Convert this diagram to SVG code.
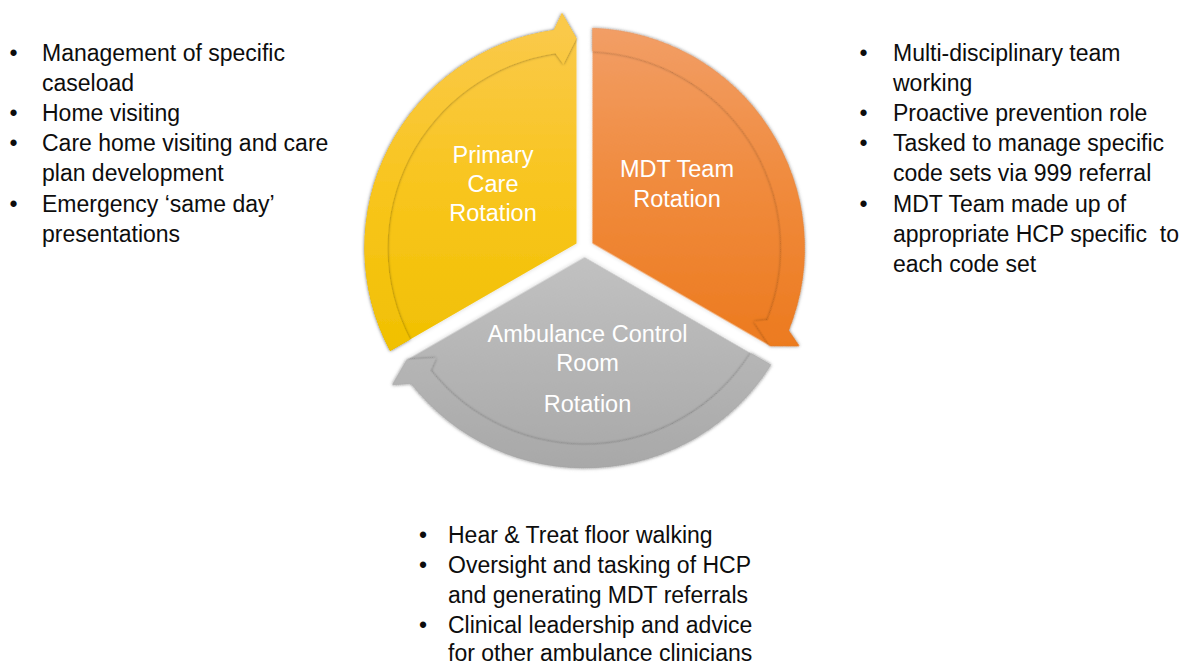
<svg xmlns="http://www.w3.org/2000/svg" xmlns:xlink="http://www.w3.org/1999/xlink" width="1182" height="668" viewBox="0 0 1182 668">
<style>
.list{font-family:"Liberation Sans",Arial,sans-serif;font-size:23px;fill:#0d0d0d}
.lbl{font-family:"Liberation Sans",Arial,sans-serif;font-size:23.5px;fill:#ffffff;text-anchor:middle}
</style>
<defs>
<linearGradient id="gYellow" gradientUnits="userSpaceOnUse" x1="0" y1="28" x2="0" y2="360">
<stop offset="0" stop-color="#FAC94A"/>
<stop offset="0.5" stop-color="#F8C51C"/>
<stop offset="1" stop-color="#F0C000"/>
</linearGradient>
<linearGradient id="gOrange" gradientUnits="userSpaceOnUse" x1="0" y1="28" x2="0" y2="350" gradientTransform="rotate(-120 584.5 248)">
<stop offset="0" stop-color="#F29E66"/>
<stop offset="0.5" stop-color="#F08A3C"/>
<stop offset="1" stop-color="#EC7A1E"/>
</linearGradient>
<linearGradient id="gGray" gradientUnits="userSpaceOnUse" x1="0" y1="250" x2="0" y2="470" gradientTransform="rotate(-240 584.5 248)">
<stop offset="0" stop-color="#C2C2C2"/>
<stop offset="1" stop-color="#A8A8A8"/>
</linearGradient>
<filter id="soft" x="-10%" y="-10%" width="120%" height="120%">
<feDropShadow dx="0" dy="0" stdDeviation="2" flood-color="#000" flood-opacity="0.18"/>
</filter>
<filter id="edge" x="-10%" y="-10%" width="120%" height="120%">
<feDropShadow dx="0" dy="0" stdDeviation="1.5" flood-color="#000" flood-opacity="0.5"/>
</filter>
<path id="segBody" d="M576.5,243.4 L390.1,351.0 A220,220 0 0 1 553.9,30.1 L562.0,13.1 L576.5,38.2 Z"/>
<path id="segBand" d="M390.1,351.0 A220,220 0 0 1 553.9,30.1 L562.0,13.1 L576.5,38.2 L563.4,64.2 L555.4,53.2 A197,197 0 0 0 410.0,339.5 Z"/>
</defs>
<rect width="1182" height="668" fill="#ffffff"/>

<g id="connectors"/>

<g id="node-primary">
<use xlink:href="#segBody" href="#segBody" fill="url(#gYellow)" filter="url(#soft)"/>
<use xlink:href="#segBand" href="#segBand" fill="url(#gYellow)" filter="url(#edge)"/>
<text class="lbl" x="493" y="163">Primary</text>
<text class="lbl" x="493" y="192">Care</text>
<text class="lbl" x="493" y="221">Rotation</text>
</g>

<g id="node-mdt">
<g transform="rotate(120 584.5 248)">
<use xlink:href="#segBody" href="#segBody" fill="url(#gOrange)" filter="url(#soft)"/>
<use xlink:href="#segBand" href="#segBand" fill="url(#gOrange)" filter="url(#edge)"/>
</g>
<text class="lbl" x="677" y="177">MDT Team</text>
<text class="lbl" x="677" y="207">Rotation</text>
</g>

<g id="node-ambulance">
<g transform="rotate(240 584.5 248)">
<use xlink:href="#segBody" href="#segBody" fill="url(#gGray)" filter="url(#soft)"/>
<use xlink:href="#segBand" href="#segBand" fill="url(#gGray)" filter="url(#edge)"/>
</g>
<text class="lbl" x="587.5" y="342">Ambulance Control</text>
<text class="lbl" x="587.5" y="371">Room</text>
<text class="lbl" x="587.5" y="412">Rotation</text>
</g>

<g id="list-primary">
<text class="list" x="9.5" y="61">•</text>
<text class="list" x="42" y="61">Management of specific</text>
<text class="list" x="42" y="91">caseload</text>
<text class="list" x="9.5" y="121">•</text>
<text class="list" x="42" y="121">Home visiting</text>
<text class="list" x="9.5" y="151">•</text>
<text class="list" x="42" y="151">Care home visiting and care</text>
<text class="list" x="42" y="181">plan development</text>
<text class="list" x="9.5" y="212">•</text>
<text class="list" x="42" y="212">Emergency ‘same day’</text>
<text class="list" x="42" y="242">presentations</text>
</g>

<g id="list-mdt">
<text class="list" x="859.5" y="61">•</text>
<text class="list" x="893" y="61">Multi-disciplinary team</text>
<text class="list" x="893" y="91">working</text>
<text class="list" x="859.5" y="121">•</text>
<text class="list" x="893" y="121">Proactive prevention role</text>
<text class="list" x="859.5" y="151">•</text>
<text class="list" x="893" y="151">Tasked to manage specific</text>
<text class="list" x="893" y="181">code sets via 999 referral</text>
<text class="list" x="859.5" y="212">•</text>
<text class="list" x="893" y="212">MDT Team made up of</text>
<text class="list" x="893" y="242" xml:space="preserve">appropriate HCP specific  to</text>
<text class="list" x="893" y="272">each code set</text>
</g>

<g id="list-ambulance">
<text class="list" x="419" y="543">•</text>
<text class="list" x="448" y="543">Hear &amp; Treat floor walking</text>
<text class="list" x="419" y="573">•</text>
<text class="list" x="448" y="573">Oversight and tasking of HCP</text>
<text class="list" x="448" y="603">and generating MDT referrals</text>
<text class="list" x="419" y="633">•</text>
<text class="list" x="448" y="633">Clinical leadership and advice</text>
<text class="list" x="448" y="661">for other ambulance clinicians</text>
</g>
</svg>
